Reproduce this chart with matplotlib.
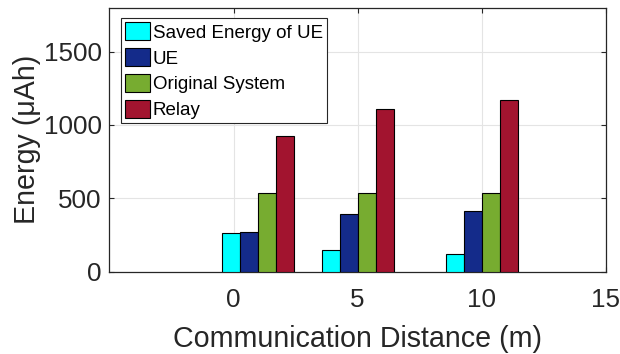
import matplotlib

matplotlib.use("Agg")
import matplotlib.pyplot as plt
import numpy as np

plt.rcParams["font.family"] = ["Liberation Sans", "DejaVu Sans"]

# --- data ---
distances = [1, 5, 10]  # group centres (m)
series_names = ["Saved Energy of UE", "UE", "Original System", "Relay"]
saved_energy = [266, 145, 119]
ue_energy = [270, 390, 416]
original_energy = [535, 535, 535]
relay_energy = [922, 1109, 1171]
x_ticks = [0, 5, 10, 15]
y_ticks = [0, 500, 1000, 1500]

colors = ["#00FFFF", "#142B8A", "#77AC30", "#A2142F"]
ink = "#262626"

fig = plt.figure(figsize=(6.2, 3.54), dpi=100)
ax = fig.add_axes([0.1766, 0.2325, 0.8004, 0.7463])

series = [saved_energy, ue_energy, original_energy, relay_energy]
bar_w = 0.727
x = np.array(distances, dtype=float)
for i, (vals, name, c) in enumerate(zip(series, series_names, colors)):
    ax.bar(x + (i - 1.5) * bar_w, vals, width=bar_w, color=c,
           edgecolor="black", linewidth=0.8, label=name, zorder=3)

ax.set_xlim(-5, 15)
ax.set_ylim(0, 1800)
ax.set_xticks(x_ticks)
ax.set_yticks(y_ticks)
ax.grid(True, color="#e4e4e4", linewidth=0.8, zorder=0)
ax.set_axisbelow(True)

for s in ax.spines.values():
    s.set_color(ink)
    s.set_linewidth(0.9)
ax.tick_params(direction="in", top=True, right=True, length=3.6,
               width=0.8, colors=ink, labelsize=18.7)
ax.tick_params(axis="x", pad=12)
ax.tick_params(axis="y", pad=5.5)

ax.set_xlabel("Communication Distance (m)", fontsize=20.6, color=ink,
              labelpad=9)
ax.set_ylabel("Energy (μAh)", fontsize=20.6, color=ink, labelpad=2)

leg = ax.legend(loc="upper left", bbox_to_anchor=(0.0226, 0.959),
                borderaxespad=0, fontsize=13.5, frameon=True, fancybox=False,
                handlelength=1.33, handleheight=1.06, handletextpad=0.16,
                borderpad=0.22, labelspacing=0.36)
leg.get_frame().set_edgecolor(ink)
leg.get_frame().set_linewidth(0.8)
leg.get_frame().set_alpha(1)

fig.savefig("out.png", dpi=100)
